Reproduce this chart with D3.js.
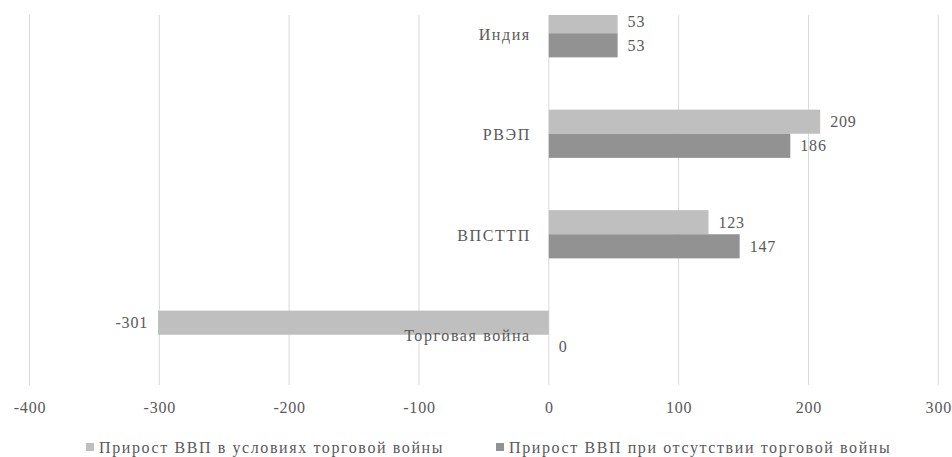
<!DOCTYPE html>
<html lang="ru">
<head>
<meta charset="utf-8">
<script src="https://d3js.org/d3.v7.min.js"></script>
<style>
  body { margin: 0; background: #fff; }
  svg text { font-family: "Liberation Serif", "DejaVu Serif", serif; fill: #595959; }
</style>
</head>
<body>
<script>
// data
var categories = ["Индия", "РВЭП", "ВПСТТП", "Торговая война"];
var seriesNames = ["Прирост ВВП в условиях торговой войны", "Прирост ВВП при отсутствии торговой войны"];
var warValues = [53, 209, 123, -301];
var noWarValues = [53, 186, 147, 0];
var xTicks = [-400, -300, -200, -100, 0, 100, 200, 300];
var colors = ["#bfbfbf", "#929292"];

var W = 952, H = 457;
var svg = d3.select("body").append("svg").attr("width", W).attr("height", H);

var x = d3.scaleLinear().domain([-400, 300]).range([29.5, 938.3]);
// top of plot is cut off in the picture, so band range starts above view
var y = d3.scaleBand().domain(categories).range([-17, 385]).paddingInner(0.52).paddingOuter(0.26);
var plotTop = 15, plotBottom = 385;

svg.append("defs").append("clipPath").attr("id", "clip")
  .append("rect").attr("x", 0).attr("y", plotTop).attr("width", W).attr("height", plotBottom - plotTop);

// gridlines
svg.append("g").selectAll("line").data(xTicks).enter().append("line")
  .attr("x1", function (d) { return x(d); }).attr("x2", function (d) { return x(d); })
  .attr("y1", plotTop).attr("y2", plotBottom)
  .attr("stroke", "#d9d9d9").attr("stroke-width", 1);

// bars
var bh = y.bandwidth() / 2;
var series = [warValues, noWarValues];
var rows = [];
categories.forEach(function (c, i) {
  series.forEach(function (s, j) { rows.push({ cat: c, s: j, v: s[i] }); });
});

var g = svg.append("g").attr("clip-path", "url(#clip)");
g.selectAll("rect").data(rows).enter().append("rect")
  .attr("x", function (d) { return x(Math.min(0, d.v)); })
  .attr("width", function (d) { return Math.abs(x(d.v) - x(0)); })
  .attr("y", function (d) { return y(d.cat) + d.s * bh; })
  .attr("height", bh)
  .attr("fill", function (d) { return colors[d.s]; });

// value labels
svg.append("g").selectAll("text").data(rows).enter().append("text")
  .attr("x", function (d) { return d.v < 0 ? x(d.v) - 10 : x(d.v) + 10; })
  .attr("y", function (d) { return y(d.cat) + d.s * bh + bh / 2; })
  .attr("dy", "0.35em")
  .attr("text-anchor", function (d) { return d.v < 0 ? "end" : "start"; })
  .style("font-size", "16px")
  .style("letter-spacing", "0.8px")
  .text(function (d) { return d.v; });

// category labels
svg.append("g").selectAll("text").data(categories).enter().append("text")
  .attr("x", x(0) - 18)
  .attr("y", function (d) { return y(d) + y.bandwidth() / 2 + 1; })
  .attr("dy", "0.35em")
  .attr("text-anchor", "end")
  .style("font-size", "16px")
  .style("letter-spacing", "1.6px")
  .text(function (d) { return d; });

// x axis labels
var xAxis = d3.axisBottom(x).tickValues(xTicks).tickSize(0).tickPadding(0)
  .tickFormat(function (d) { return String(d); });
var ax = svg.append("g").attr("transform", "translate(0," + 402 + ")").call(xAxis);
ax.select(".domain").remove();
ax.attr("font-family", null);
ax.selectAll("text").style("font-size", "16px").style("letter-spacing", "0.8px").attr("fill", "#595959");

// legend
var legX = [86, 496];
var leg = svg.append("g").selectAll("g").data(seriesNames).enter().append("g")
  .attr("transform", function (d, i) { return "translate(" + legX[i] + ",443)"; });
leg.append("rect").attr("width", 8).attr("height", 8).attr("y", 0)
  .attr("fill", function (d, i) { return colors[i]; });
leg.append("text").attr("x", 13).attr("y", 4).attr("dy", "0.35em")
  .style("font-size", "16px")
  .style("letter-spacing", "1.6px")
  .text(function (d) { return d; });
</script>
</body>
</html>
